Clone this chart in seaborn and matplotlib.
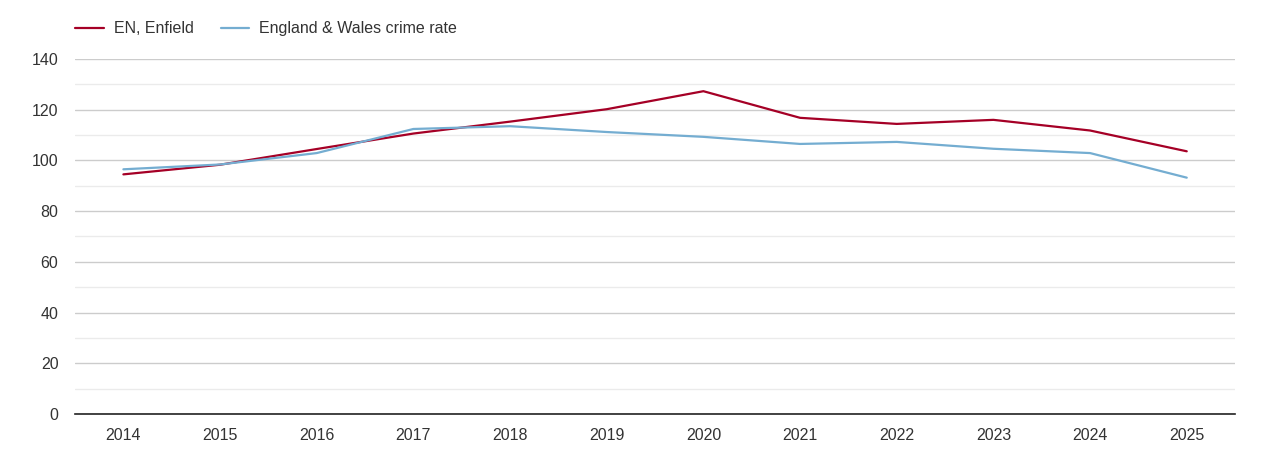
import numpy as np
import pandas as pd
import matplotlib
matplotlib.use("Agg")
import matplotlib.pyplot as plt
import seaborn as sns

# values
years = [2014, 2015, 2016, 2017, 2018, 2019, 2020, 2021, 2022, 2023, 2024, 2025]
enfield = [94.5, 98.3, 104.5, 110.6, 115.3, 120.2, 127.3, 116.8, 114.4, 116.0, 111.8, 103.6]
england_wales = [96.5, 98.4, 102.9, 112.4, 113.5, 111.2, 109.3, 106.5, 107.3, 104.6, 102.9, 93.2]
series_names = ["EN, Enfield", "England & Wales crime rate"]
colors = ["#a50026", "#74add1"]

df = pd.DataFrame({
    "year": years * 2,
    "rate": enfield + england_wales,
    "series": [series_names[0]] * len(years) + [series_names[1]] * len(years),
})

sns.set_theme(style="white")
plt.rcParams['font.family'] = ['Liberation Sans', 'DejaVu Sans']

fig = plt.figure(figsize=(12.7, 4.5), dpi=100)
ax = fig.add_axes([0.0591, 0.08, 0.9134, 0.7889])

sns.lineplot(data=df, x="year", y="rate", hue="series", hue_order=series_names,
             palette=colors, linewidth=1.6, ax=ax, legend=False)

ax.set_xlim(2013.5, 2025.5)
ax.set_ylim(0, 140)
ax.set_xticks(years)
ax.set_xticklabels([str(y) for y in years])
ax.set_yticks(range(0, 141, 20))
ax.set_yticks(range(10, 140, 20), minor=True)
ax.grid(which="major", axis="y", color="#cccccc", linewidth=1)
ax.grid(which="minor", axis="y", color="#ebebeb", linewidth=1)
ax.grid(axis="x", visible=False)
ax.set_axisbelow(True)
ax.set_xlabel("")
ax.set_ylabel("")
for side in ["top", "right", "left"]:
    ax.spines[side].set_visible(False)
ax.spines["bottom"].set_color("#222222")
ax.spines["bottom"].set_linewidth(1.2)
ax.tick_params(axis="both", which="both", length=0, labelsize=11.5, labelcolor="#333333")
ax.tick_params(axis="x", pad=10)
ax.tick_params(axis="y", pad=12)

handles = [plt.Line2D([], [], color=c, linewidth=1.6) for c in colors]
fig.legend(handles, series_names, loc="upper left", bbox_to_anchor=(0.048, 0.985),
           ncol=2, frameon=False, fontsize=11.5, handlelength=1.8, handletextpad=0.6,
           columnspacing=1.7, labelcolor="#333333")

fig.savefig("out.png", dpi=100)
